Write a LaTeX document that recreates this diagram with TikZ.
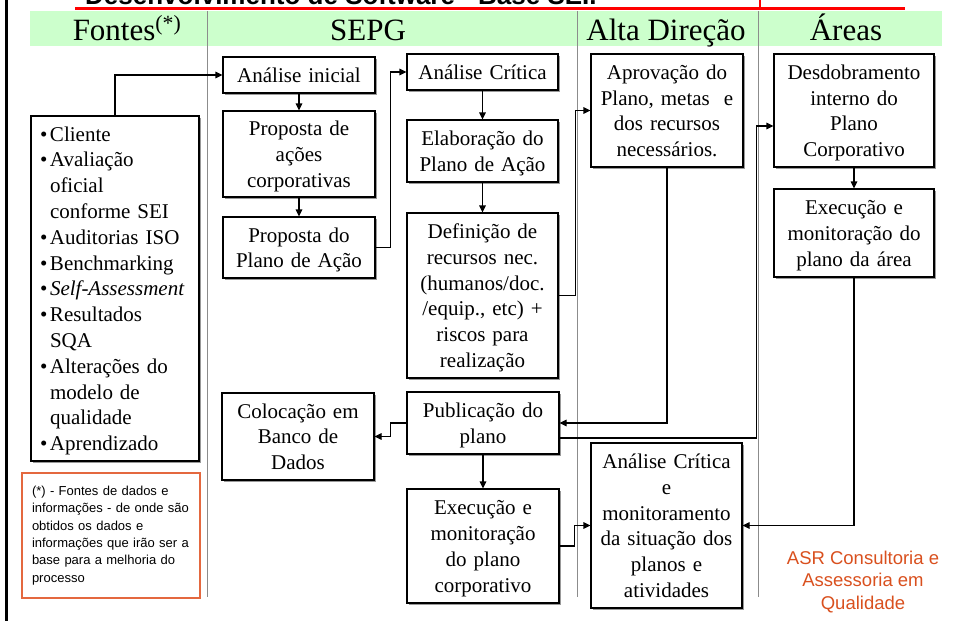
\documentclass[tikz,border=0pt]{standalone}
\usepackage{fontspec}
\setmainfont{Liberation Serif}
\newfontfamily\arialfont{Liberation Sans}
\usetikzlibrary{arrows.meta,shadows}
\definecolor{band}{HTML}{CCFFCC}
\definecolor{noteline}{HTML}{E4683F}
\definecolor{asrtext}{HTML}{D9501E}
\newcommand\srcbullet{\makebox[10pt][l]{•}}
\newcommand\srcindent{\hspace*{10pt}}
\begin{document}
\begin{tikzpicture}[x=1pt,y=-1pt,
  stepbox/.style={draw=black, line width=1.1pt, fill=white, inner sep=0pt, align=center,
    font=\fontsize{21}{25.8}\selectfont,
    execute at begin node={\rule{0pt}{19.5pt}},
    execute at end node={\rule[-4.6pt]{0pt}{4.6pt}},
    drop shadow={shadow xshift=1.5pt, shadow yshift=-1.5pt, fill=black!40, opacity=1}},
  conn/.style={line width=1.1pt},
  arr/.style={conn, -{Triangle[length=7pt,width=6.5pt]}},
  lane/.style={draw=black!45, line width=0.9pt},
  head/.style={font=\fontsize{31}{36}\selectfont, anchor=base, inner sep=0pt},
]
\useasboundingbox (0,0) rectangle (961,621);

% page title, running off the top edge
\begin{scope}
  \clip (0,0) rectangle (961,621);
  \node[font=\arialfont\bfseries\fontsize{26}{30}\selectfont, anchor=base west, inner sep=0pt]
    (title) at (85,4.5) {Desenvolvimento de Software - Base SEI.};
  \draw[red, line width=3pt] (75,8) -- (905,8);
  \draw[red, line width=1.5pt] (760,0) -- (760,8);
\end{scope}

% left margin rule
\draw[line width=3pt] (6,0) -- (6,621);

% lane header band and lane separators
\fill[band] (30,11) rectangle (942,46);
\draw[lane] (207,11) -- (207,597);
\draw[lane] (577,11) -- (577,597);
\draw[lane] (758,11) -- (758,597);

\node[head] (hf) at (127,40) {Fontes\textsuperscript{(*)}};
\node[head] (hs) at (368,40) {SEPG};
\node[head] (hd) at (666,40) {Alta Direção};
\node[head] (hr) at (846,40) {Áreas};

% sources
\node[stepbox, minimum width=168pt, minimum height=345pt, text width=150pt, align=left]
  (src) at (115,288.5) {\srcbullet Cliente\\ \srcbullet Avaliação\\ \srcindent oficial\\
  \srcindent conforme SEI\\ \srcbullet Auditorias ISO\\ \srcbullet Benchmarking\\
  \srcbullet\textit{Self-Assessment}\\ \srcbullet Resultados\\ \srcindent SQA\\
  \srcbullet Alterações do\\ \srcindent modelo de\\ \srcindent qualidade\\ \srcbullet Aprendizado};

\node[draw=noteline, line width=1.2pt, fill=white, minimum width=178pt, minimum height=125pt,
  text width=158pt, align=left, inner sep=0pt, font=\arialfont\fontsize{13}{17.4}\selectfont]
  (note) at (111,535.5) {(*) - Fontes de dados e\\informações - de onde são\\obtidos os dados e\\informações que irão ser a\\base para a melhoria do\\processo};

% SEPG
\node[stepbox, minimum width=152pt, minimum height=36pt, text width=146pt] (ai) at (299,75) {Análise inicial};
\node[stepbox, minimum width=152pt, minimum height=86pt, text width=146pt] (pa) at (299,154) {Proposta de\\ações\\corporativas};
\node[stepbox, minimum width=152pt, minimum height=61pt, text width=146pt] (pp) at (299,247.5) {Proposta do\\Plano de Ação};
\node[stepbox, minimum width=152pt, minimum height=87pt, text width=146pt] (col) at (298,436.5) {Colocação em\\Banco de\\Dados};

\node[stepbox, minimum width=151pt, minimum height=36pt, text width=145pt] (ac) at (482.5,72) {Análise Crítica};
\node[stepbox, minimum width=151pt, minimum height=62pt, text width=145pt] (ep) at (482.5,151) {Elaboração do\\Plano de Ação};
\node[stepbox, minimum width=151pt, minimum height=165pt, text width=145pt] (dr) at (482.5,295.5) {Definição de\\recursos nec.\\(humanos/doc.\\/equip., etc) +\\riscos para\\realização};
\node[stepbox, minimum width=152pt, minimum height=62pt, text width=146pt] (pub) at (483,423) {Publicação do\\plano};
\node[stepbox, minimum width=152pt, minimum height=114pt, text width=146pt] (ec) at (483,546) {Execução e\\monitoração\\do plano\\corporativo};

% Alta Direção
\node[stepbox, minimum width=152pt, minimum height=113pt, text width=146pt] (ap) at (667,110.5) {Aprovação do\\Plano, metas \ e\\dos recursos\\necessários.};
\node[stepbox, minimum width=151pt, minimum height=165pt, text width=145pt] (ac2) at (666.5,525.5) {Análise Crítica\\e\\monitoramento\\da situação dos\\planos e\\atividades};

% Áreas
\node[stepbox, minimum width=160pt, minimum height=113pt, text width=154pt] (dd) at (854,110.5) {Desdobramento\\interno do\\Plano\\Corporativo};
\node[stepbox, minimum width=160pt, minimum height=88pt, text width=154pt] (ea) at (854,233) {Execução e\\monitoração do\\plano da área};

\node[font=\arialfont\fontsize{18.5}{22.5}\selectfont, text=asrtext, align=center, inner sep=0pt]
  (asr) at (863,582) {ASR Consultoria e\\Assessoria em\\Qualidade};

% flow
\draw[arr] (src.north) |- (ai.west);
\draw[arr] (ai.south) -- (pa.north);
\draw[arr] (pa.south) -- (pp.north);
\draw[arr] (pp.east) -- ++(15,0) |- (ac.west);
\draw[arr] (ac.south) -- (ep.north);
\draw[arr] (ep.south) -- (dr.north);
\draw[arr] (dr.east) -- ++(17,0) |- (ap.west);
\draw[arr] (ap.south) |- (pub.east);
\draw[arr] (pub.west) -- ++(-16,0) |- (col.east);
\draw[arr] ([yshift=-15pt]pub.east) -- ++(197,0) |- ([yshift=-15.5pt]dd.west);
\draw[arr] (pub.south) -- (ec.north);
\draw[arr] (ec.east) -- ++(15,0) |- (ac2.west);
\draw[arr] (dd.south) -- (ea.north);
\draw[arr] (ea.south) |- (ac2.east);
\end{tikzpicture}
\end{document}
